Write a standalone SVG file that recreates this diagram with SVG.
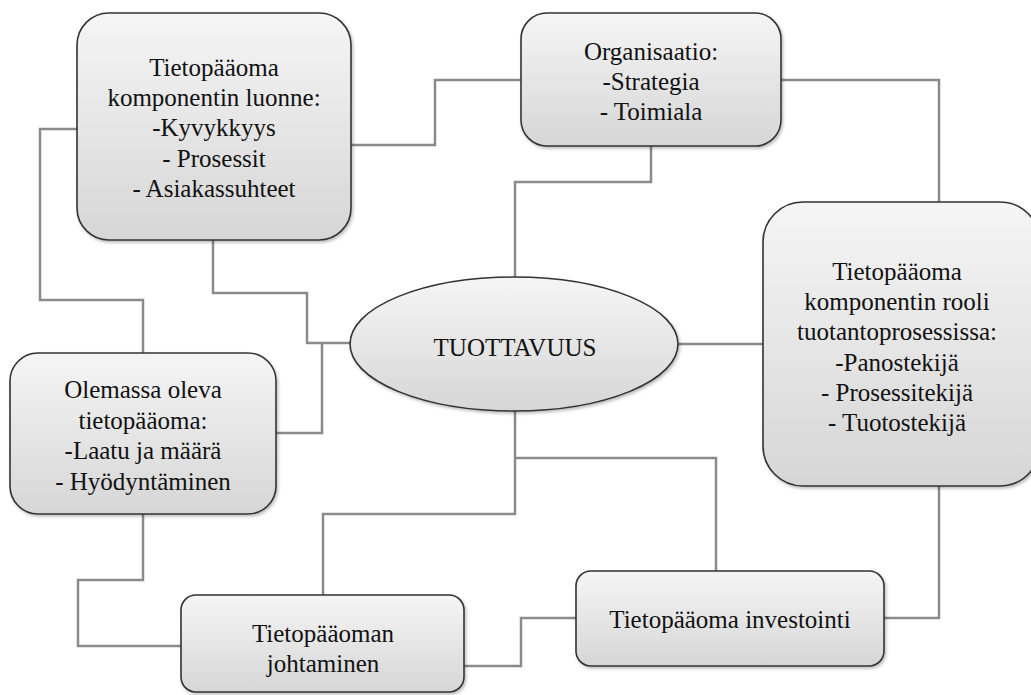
<svg xmlns="http://www.w3.org/2000/svg" width="1031" height="695" viewBox="0 0 1031 695">
<defs>
<linearGradient id="g" x1="0" y1="0" x2="0" y2="1">
<stop offset="0" stop-color="#f5f5f5"/>
<stop offset="1" stop-color="#d6d6d6"/>
</linearGradient>
<filter id="sh" x="-10%" y="-10%" width="130%" height="130%">
<feDropShadow dx="1.5" dy="2" stdDeviation="1.5" flood-color="#000" flood-opacity="0.25"/>
</filter>
</defs>
<style>
.n{fill:url(#g);stroke:#333;stroke-width:1.6;filter:url(#sh)}
.c{fill:none;stroke:#8a8a8a;stroke-width:2.5}
.t{font-size:25px;fill:#111;text-anchor:middle}
</style>
<rect width="1031" height="695" fill="#fff"/>
<g id="connectors">
<polyline class="c" points="77,129 40,129 40,300 143,300 143,353"/>
<polyline class="c" points="351,145 435,145 435,80 521,80"/>
<polyline class="c" points="213,240 213,293 307,293 307,343 350,343"/>
<polyline class="c" points="276,433 322,433 322,343"/>
<polyline class="c" points="651,146 651,182 515,182 515,277"/>
<polyline class="c" points="781,80 939,80 939,202"/>
<polyline class="c" points="678,344 763,344"/>
<polyline class="c" points="515,410 515,514 323,514 323,595"/>
<polyline class="c" points="515,458 716,458 716,571"/>
<polyline class="c" points="939,486 939,618 884,618"/>
<polyline class="c" points="576,618 521,618 521,666 464,666"/>
<polyline class="c" points="143,514 143,580 78,580 78,646 181,646"/>
</g>
<g id="node-luonne" font-family="Liberation Serif, serif">
<rect class="n" x="77" y="13" width="274" height="227" rx="32" ry="32"/>
<text class="t" x="214" y="76">Tietopääoma</text>
<text class="t" x="214" y="106">komponentin luonne:</text>
<text class="t" x="214" y="136">-Kyvykkyys</text>
<text class="t" x="214" y="167">- Prosessit</text>
<text class="t" x="214" y="197">- Asiakassuhteet</text>
</g>
<g id="node-organisaatio" font-family="Liberation Serif, serif">
<rect class="n" x="521" y="13" width="260" height="133" rx="26" ry="26"/>
<text class="t" x="651" y="60">Organisaatio:</text>
<text class="t" x="651" y="90">-Strategia</text>
<text class="t" x="651" y="120">- Toimiala</text>
</g>
<g id="node-rooli" font-family="Liberation Serif, serif">
<rect class="n" x="763" y="202" width="277" height="284" rx="40" ry="40"/>
<text class="t" x="897" y="280">Tietopääoma</text>
<text class="t" x="897" y="310">komponentin rooli</text>
<text class="t" x="897" y="340">tuotantoprosessissa:</text>
<text class="t" x="897" y="371">-Panostekijä</text>
<text class="t" x="897" y="401">- Prosessitekijä</text>
<text class="t" x="897" y="431">- Tuotostekijä</text>
</g>
<g id="node-tuottavuus" font-family="Liberation Serif, serif">
<ellipse class="n" cx="514" cy="344" rx="164" ry="67"/>
<text class="t" x="515" y="356">TUOTTAVUUS</text>
</g>
<g id="node-olemassa" font-family="Liberation Serif, serif">
<rect class="n" x="10" y="353" width="266" height="161" rx="28" ry="28"/>
<text class="t" x="143" y="398">Olemassa oleva</text>
<text class="t" x="143" y="429">tietopääoma:</text>
<text class="t" x="143" y="459">-Laatu ja määrä</text>
<text class="t" x="143" y="490">- Hyödyntäminen</text>
</g>
<g id="node-johtaminen" font-family="Liberation Serif, serif">
<rect class="n" x="181" y="595" width="283" height="97" rx="15" ry="15"/>
<text class="t" x="323" y="642">Tietopääoman</text>
<text class="t" x="323" y="672">johtaminen</text>
</g>
<g id="node-investointi" font-family="Liberation Serif, serif">
<rect class="n" x="576" y="571" width="308" height="95" rx="15" ry="15"/>
<text class="t" x="730" y="628">Tietopääoma investointi</text>
</g>
</svg>
